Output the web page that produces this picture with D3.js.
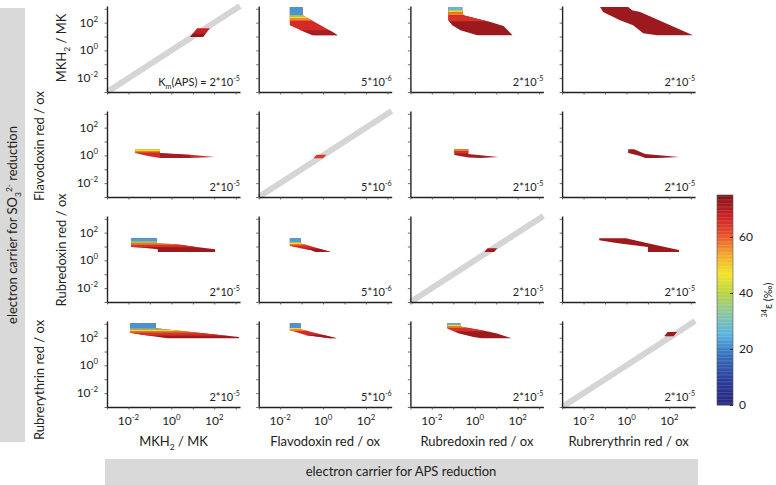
<!DOCTYPE html>
<html><head><meta charset="utf-8">
<script src="https://cdn.jsdelivr.net/npm/d3@7"></script>
<style>
body{margin:0;background:#fff}
svg{display:block}
text{font-family:Lato,"Open Sans",sans-serif;fill:#222}
</style>
</head><body>
<svg id="chart" width="776" height="485"></svg>
<script>
// ---------------- data ----------------
const apsCarriers = ["MKH_{2} / MK", "Flavodoxin red / ox", "Rubredoxin red / ox", "Rubrerythrin red / ox"];
const so3Carriers = ["MKH_{2} / MK", "Flavodoxin red / ox", "Rubredoxin red / ox", "Rubrerythrin red / ox"];
const kmLabels = ["2*10^{-5}", "5*10^{-6}", "2*10^{-5}", "2*10^{-5}"];
const kmFirstPrefix = "K_{m}(APS) = ";
const labelTicks = [-2, 0, 2];            // log10 exponents labelled
const minorTicks = [-3, -2, -1, 0, 1, 2, 3];
const logDomain = [-3, 3.2];
const cbTicks = [0, 20, 40, 60];
const cbDomain = [0, 75];
const cmapStops = [0, 9, 19, 25, 33, 40, 47, 54, 61, 67, 75];
const cmapColors = ["#25287a", "#2c3c9a", "#3b78c0", "#58b2e2", "#8cc7a0", "#b9d443",
                    "#f2e52a", "#f3a52e", "#e5512a", "#cf2227", "#7e1518"];
const diagonalPanels = [[0, 0], [1, 1], [2, 2], [3, 3]];

// region outlines: [row, col, value(‰), [[log10 x, log10 y], ...]]
const regionOutlines = [
  [0, 0, 68, [[0.87,0.96],[1.48,0.96],[1.8,1.6],[1.2,1.6]]],
  [0, 1, 66, [[-1.55,3.12],[-0.95,3.12],[-0.95,2.54],[0.36,1.39],[0.68,1.1],[-0.48,1.1],[-1.04,1.46],[-1.55,1.82]]],
  [0, 2, 72, [[-1.23,3.12],[-0.58,3.12],[-0.58,2.9],[-0.53,2.54],[0.4,2.18],[0.73,2.04],[1.34,1.75],[1.76,1.1],[0.12,1.1],[-0.67,1.46],[-1.05,1.82],[-1.23,2.18]]],
  [0, 3, 72, [[-1.23,3.12],[0.08,3.12],[0.26,2.9],[0.64,2.76],[3.1,1.1],[1.43,1.1],[0.78,1.24],[0.31,1.82],[-0.3,2.18],[-1.09,2.76]]],
  [1, 0, 66, [[-1.69,0.45],[-0.53,0.45],[-0.53,0.17],[0.87,0.05],[2.03,-0.12],[0.87,-0.19],[-0.53,-0.19],[-1.09,-0.05],[-1.69,0.17]]],
  [1, 1, 64, [[-0.45,-0.2],[0.0,-0.2],[0.15,0.05],[-0.3,0.05]]],
  [1, 2, 71, [[-0.95,0.45],[-0.3,0.45],[-0.3,0.1],[1.1,-0.12],[0.26,-0.19],[-0.3,-0.15],[-0.95,0.02]]],
  [1, 3, 72, [[0.08,0.45],[0.35,0.45],[0.87,0.1],[2.45,-0.12],[1.47,-0.19],[0.87,-0.19],[0.64,-0.05],[0.08,0.17]]],
  [2, 0, 72, [[-1.88,1.6],[-0.67,1.6],[-0.67,1.24],[0.27,1.17],[1.15,0.96],[2.04,0.81],[2.04,0.6],[-0.63,0.6],[-0.63,0.81],[-1.2,0.9],[-1.88,0.96]]],
  [2, 1, 66, [[-1.55,1.6],[-1.04,1.6],[-1.04,1.24],[0.36,0.6],[-0.34,0.6],[-0.58,0.75],[-1.04,0.88],[-1.55,1.03]]],
  [2, 2, 72, [[0.45,0.6],[0.9,0.6],[1.05,0.88],[0.6,0.88]]],
  [2, 3, 72, [[-1.27,1.6],[-0.02,1.6],[1.2,1.17],[2.45,0.74],[2.45,0.6],[1.0,0.6],[1.0,0.96],[-0.39,1.24],[-1.27,1.45]]],
  [3, 0, 72, [[-1.93,3.04],[-0.72,3.04],[-0.72,2.68],[3.15,2.04],[3.15,1.96],[-0.18,1.96],[-1.2,2.18],[-1.93,2.35]]],
  [3, 1, 66, [[-1.55,3.04],[-1.04,3.04],[-1.04,2.6],[0.64,1.96],[0.31,1.96],[-0.77,2.18],[-1.55,2.54]]],
  [3, 2, 72, [[-1.28,3.04],[-0.67,3.04],[-0.67,2.8],[0.31,2.54],[1.0,2.32],[1.71,1.96],[0.31,1.96],[-0.06,2.04],[-0.77,2.32],[-1.28,2.68]]],
  [3, 3, 72, [[1.76,2.1],[2.2,2.1],[2.36,2.4],[1.92,2.4]]]
];

// horizontal value bands inside a region: [row, col, log10 y top, log10 y bottom, value(‰)]
const regionBands = [
  [0,1,3.2,2.54,22],[0,1,2.54,2.42,38],[0,1,2.42,2.3,47],[0,1,2.3,2.15,56],[0,1,1.45,1.0,71],
  [0,2,3.2,2.9,27],[0,2,2.9,2.75,45],[0,2,2.75,2.55,57],[0,2,2.55,2.1,65],
  [1,0,0.6,0.3,46],[1,0,0.3,0.22,56],
  [1,2,0.6,0.3,57],[1,2,0.3,0.15,65],
  [2,0,1.7,1.39,23],[2,0,1.39,1.3,33],[2,0,1.3,1.22,46],[2,0,1.22,1.12,56],[2,0,1.12,0.95,65],
  [2,1,1.7,1.3,23],[2,1,1.3,1.18,46],[2,1,1.18,1.08,57],[2,1,0.85,0.5,72],
  [3,0,3.1,2.68,22],[3,0,2.68,2.58,32],[3,0,2.58,2.45,46],[3,0,2.45,2.35,57],[3,0,2.35,2.15,65],
  [3,1,3.1,2.7,22],[3,1,2.7,2.58,46],[3,1,2.58,2.48,57],[3,1,2.2,1.9,72],
  [3,2,3.1,2.92,27],[3,2,2.92,2.8,46],[3,2,2.8,2.7,57],[3,2,2.7,2.45,65]
];

// extra patches: [row, col, value(‰), polygon]
const regionPatches = [
  [1, 0, 71, [[-0.53,0.17],[0.87,0.05],[0.87,-0.19],[-0.53,-0.19]]],
  [0, 0, 73, [[0.87,0.96],[1.48,0.96],[1.6,1.2],[1.0,1.2]]]
];

// ---------------- layout ----------------
const svg = d3.select("#chart");
const colLeft = c => 107 + c * 151.7;
const rowBottom = r => 92 + r * 105;
const PW = 133, PH = 86;

const cmap = d3.scaleLinear().domain(cmapStops).range(cmapColors).interpolate(d3.interpolateRgb).clamp(true);

function rich(sel, str, fs) {
  const parts = str.split(/(_\{[^}]*\}|\^\{[^}]*\})/g).filter(s => s.length);
  let shift = 0;
  parts.forEach(p => {
    let target = 0, size = fs, t = p;
    if (p.startsWith("_{")) { target = fs * 0.3; size = fs * 0.65; t = p.slice(2, -1); }
    else if (p.startsWith("^{")) { target = -fs * 0.42; size = fs * 0.65; t = p.slice(2, -1); }
    sel.append("tspan").attr("dy", target - shift).attr("font-size", size).text(t);
    shift = target;
  });
}

// grey header bars
svg.append("rect").attr("x", 0).attr("y", 8).attr("width", 25).attr("height", 434).attr("fill", "#d9d9d9");
const lt = svg.append("text").attr("transform", "translate(17,225) rotate(-90)")
  .attr("text-anchor", "middle").attr("font-size", 13);
rich(lt, "electron carrier for SO_{3}^{2-} reduction", 13);
svg.append("rect").attr("x", 105).attr("y", 459).attr("width", 593).attr("height", 26).attr("fill", "#d9d9d9");
const bt = svg.append("text").attr("x", 401).attr("y", 476).attr("text-anchor", "middle").attr("font-size", 13);
rich(bt, "electron carrier for APS reduction", 13);

const x = d3.scaleLog().domain(logDomain.map(e => 10 ** e)).range([0, PW]);
const y = d3.scaleLog().domain(logDomain.map(e => 10 ** e)).range([PH, 0]);
const line = d3.line().x(d => x(10 ** d[0])).y(d => y(10 ** d[1]));

const defs = svg.append("defs");

for (let r = 0; r < 4; r++) {
  for (let c = 0; c < 4; c++) {
    const g = svg.append("g").attr("transform", `translate(${colLeft(c)},${rowBottom(r) - PH})`);
    // diagonal
    if (diagonalPanels.some(d => d[0] === r && d[1] === c)) {
      g.append("path").attr("d", line([[logDomain[0], logDomain[0]], [logDomain[1], logDomain[1]]]))
        .attr("stroke", "#d5d5d5").attr("stroke-width", 6).attr("fill", "none");
    }
    // region
    regionOutlines.filter(o => o[0] === r && o[1] === c).forEach((o, i) => {
      const id = `clip-${r}-${c}-${i}`;
      defs.append("clipPath").attr("id", id).append("path").attr("d", line(o[3]) + "Z")
        .attr("transform", `translate(${colLeft(c)},${rowBottom(r) - PH})`);
      g.append("path").attr("d", line(o[3]) + "Z").attr("fill", cmap(o[2]));
      const cg = svg.append("g").attr("clip-path", `url(#${id})`);
      regionBands.filter(b => b[0] === r && b[1] === c).forEach(b => {
        cg.append("rect")
          .attr("x", colLeft(c) + x(10 ** logDomain[0]))
          .attr("width", x(10 ** logDomain[1]) - x(10 ** logDomain[0]))
          .attr("y", rowBottom(r) - PH + y(10 ** b[2]))
          .attr("height", y(10 ** b[3]) - y(10 ** b[2]))
          .attr("fill", cmap(b[4]));
      });
      regionPatches.filter(p => p[0] === r && p[1] === c).forEach(p => {
        cg.append("path").attr("d", line(p[3]) + "Z")
          .attr("transform", `translate(${colLeft(c)},${rowBottom(r) - PH})`)
          .attr("fill", cmap(p[2]));
      });
    });
    // axes
    const ax = g.append("g").attr("transform", `translate(0,${PH})`)
      .call(d3.axisBottom(x).tickValues(minorTicks.map(e => 10 ** e)).tickSize(2.5).tickSizeOuter(0).tickFormat(""));
    const ay = g.append("g")
      .call(d3.axisLeft(y).tickValues(minorTicks.map(e => 10 ** e)).tickSize(2.5).tickSizeOuter(0).tickFormat(""));
    [ax, ay].forEach(a => {
      a.select(".domain").attr("stroke", "#222").attr("stroke-width", 1.4);
      a.selectAll(".tick line").attr("stroke", "#444").attr("stroke-width", 0.8);
    });
    // y labels (first column)
    if (c === 0) {
      labelTicks.forEach(e => {
        const t = g.append("text").attr("x", -9).attr("y", y(10 ** e) + 4).attr("text-anchor", "end").attr("font-size", 12);
        rich(t, `10^{${e}}`, 12);
      });
    }
    // x labels (last row)
    if (r === 3) {
      labelTicks.forEach(e => {
        const t = g.append("text").attr("x", x(10 ** e)).attr("y", PH + 18).attr("text-anchor", "middle").attr("font-size", 12);
        rich(t, `10^{${e}}`, 12);
      });
      const xt = g.append("text").attr("x", PW / 2).attr("y", PH + 39).attr("text-anchor", "middle").attr("font-size", 13);
      rich(xt, apsCarriers[c], 13);
    }
    // Km annotation
    const kt = g.append("text").attr("x", PW).attr("y", PH - 6).attr("text-anchor", "end").attr("font-size", 11);
    rich(kt, (r === 0 && c === 0 ? kmFirstPrefix : "") + kmLabels[c], 11);
  }
}

// row titles
const rowTitlePos = [[62, 48], [40, 146], [62, 250], [40, 380]];
so3Carriers.forEach((s, r) => {
  const t = svg.append("text").attr("transform", `translate(${rowTitlePos[r][0] + 4},${rowTitlePos[r][1]}) rotate(-90)`)
    .attr("text-anchor", "middle").attr("font-size", 13);
  rich(t, s, 13);
});

// colour bar
const cbY = d3.scaleLinear().domain(cbDomain).range([405, 195]);
const cbX = 717, cbW = 16;
const steps = d3.range(cbDomain[0], cbDomain[1], 0.5);
svg.append("g").selectAll("rect").data(steps).join("rect")
  .attr("x", cbX).attr("width", cbW)
  .attr("y", d => cbY(d + 0.5)).attr("height", d => cbY(d) - cbY(d + 0.5) + 0.3)
  .attr("fill", d => cmap(d + 0.25));
svg.append("rect").attr("x", cbX).attr("y", cbY(cbDomain[1])).attr("width", cbW)
  .attr("height", cbY(cbDomain[0]) - cbY(cbDomain[1])).attr("fill", "none").attr("stroke", "#555").attr("stroke-width", 0.6);
const cba = svg.append("g").attr("transform", `translate(${cbX + cbW},0)`)
  .call(d3.axisRight(cbY).tickValues(cbTicks).tickSize(-3).tickPadding(6).tickSizeOuter(0));
cba.select(".domain").remove();
cba.selectAll(".tick line").attr("stroke", "#333");
cba.selectAll(".tick text").attr("font-size", 12).attr("font-family", "Lato,'Open Sans',sans-serif").attr("fill", "#222");
const ct = svg.append("text").attr("transform", "translate(772,300) rotate(-90)").attr("text-anchor", "middle").attr("font-size", 11);
rich(ct, "^{34}ε (‰)", 11);
</script>
</body></html>
